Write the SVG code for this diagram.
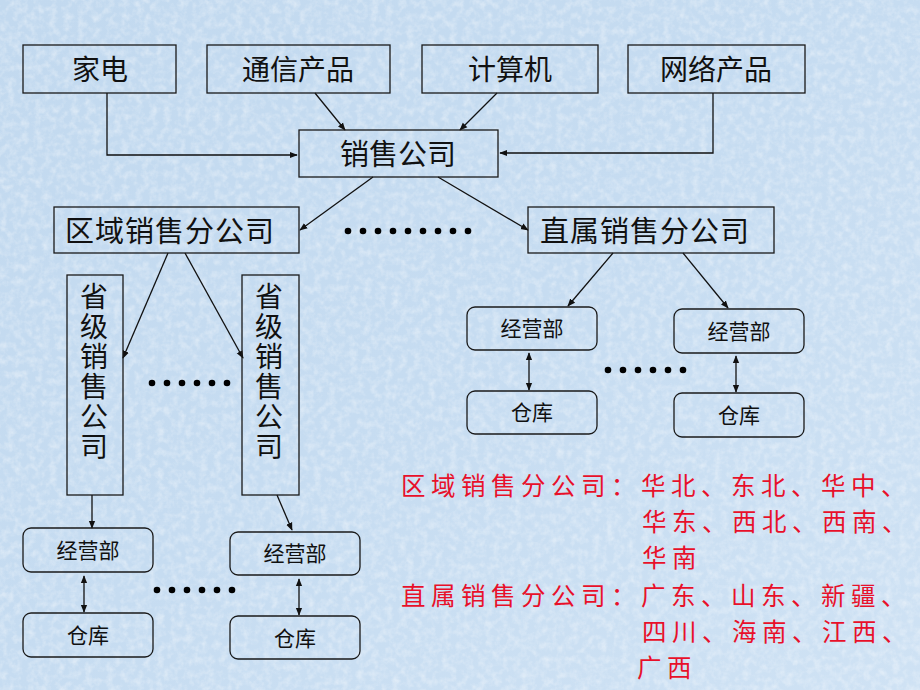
<svg xmlns="http://www.w3.org/2000/svg" width="920" height="690" viewBox="0 0 920 690">
<defs>
<style>
.box{fill:none;stroke:#1a1a1a;stroke-width:1.3}
.rbox{fill:none;stroke:#1a1a1a;stroke-width:1.3}
.ln{fill:none;stroke:#111;stroke-width:1.3}
.t{font-family:"Noto Sans CJK SC","Noto Sans CJK TC",sans-serif;fill:#111;text-anchor:middle}
.big{font-size:28px}
.mid{font-size:29px}
.sm{font-size:21px}
.red{font-family:"Noto Sans CJK SC",sans-serif;font-size:24.5px;fill:#e8102a;letter-spacing:5.5px}
.dot{fill:#000}
</style>
<marker id="ah" viewBox="0 0 10 10" refX="9" refY="5" markerWidth="8" markerHeight="8" markerUnits="userSpaceOnUse" orient="auto-start-reverse">
<path d="M0,1 L10,5 L0,9 z" fill="#111"/>
</marker>
<filter id="tex" x="0" y="0" width="100%" height="100%">
<feTurbulence type="fractalNoise" baseFrequency="0.14" numOctaves="3" seed="4" result="n"/>
<feColorMatrix in="n" type="matrix" values="0 0 0 0 1  0 0 0 0 1  0 0 0 0 1  0 0 0 1.4 -0.55" />
</filter>
<linearGradient id="bg" x1="0" y1="0" x2="1" y2="1">
<stop offset="0" stop-color="#c2d9ef"/>
<stop offset="0.5" stop-color="#c6dcf1"/>
<stop offset="1" stop-color="#cfe2f4"/>
</linearGradient>
</defs>
<rect width="920" height="690" fill="url(#bg)"/>
<rect width="920" height="690" filter="url(#tex)" opacity="0.55"/>

<g id="connectors">
<polyline class="ln" points="107,93 107,155 297,155" marker-end="url(#ah)"/>
<polyline class="ln" points="713,93 713,153 500,153" marker-end="url(#ah)"/>
<line class="ln" x1="315" y1="93" x2="345" y2="130" marker-end="url(#ah)"/>
<line class="ln" x1="497" y1="93" x2="460" y2="130" marker-end="url(#ah)"/>
<line class="ln" x1="373" y1="177" x2="300" y2="230" marker-end="url(#ah)"/>
<line class="ln" x1="438" y1="177" x2="528" y2="230" marker-end="url(#ah)"/>
<line class="ln" x1="168" y1="253" x2="123" y2="358" marker-end="url(#ah)"/>
<line class="ln" x1="185" y1="253" x2="243" y2="358" marker-end="url(#ah)"/>
<line class="ln" x1="92" y1="495" x2="92" y2="528" marker-end="url(#ah)"/>
<line class="ln" x1="277" y1="495" x2="292" y2="530" marker-end="url(#ah)"/>
<line class="ln" x1="84" y1="576" x2="84" y2="612" marker-start="url(#ah)" marker-end="url(#ah)"/>
<line class="ln" x1="299" y1="579" x2="299" y2="615" marker-start="url(#ah)" marker-end="url(#ah)"/>
<line class="ln" x1="613" y1="253" x2="568" y2="306" marker-end="url(#ah)"/>
<line class="ln" x1="683" y1="253" x2="728" y2="308" marker-end="url(#ah)"/>
<line class="ln" x1="529" y1="353" x2="529" y2="390" marker-start="url(#ah)" marker-end="url(#ah)"/>
<line class="ln" x1="736" y1="356" x2="736" y2="392" marker-start="url(#ah)" marker-end="url(#ah)"/>
</g>

<g id="dots">
<g class="dot">
<circle cx="348" cy="231" r="3.3"/><circle cx="363" cy="231" r="3.3"/><circle cx="378" cy="231" r="3.3"/><circle cx="393" cy="231" r="3.3"/><circle cx="408" cy="231" r="3.3"/><circle cx="423" cy="231" r="3.3"/><circle cx="438" cy="231" r="3.3"/><circle cx="453" cy="231" r="3.3"/><circle cx="468" cy="231" r="3.3"/>
<circle cx="152" cy="383" r="3.3"/><circle cx="167" cy="383" r="3.3"/><circle cx="182" cy="383" r="3.3"/><circle cx="197" cy="383" r="3.3"/><circle cx="212" cy="383" r="3.3"/><circle cx="227" cy="383" r="3.3"/>
<circle cx="157" cy="590" r="3.3"/><circle cx="172" cy="590" r="3.3"/><circle cx="187" cy="590" r="3.3"/><circle cx="202" cy="590" r="3.3"/><circle cx="217" cy="590" r="3.3"/><circle cx="232" cy="590" r="3.3"/>
<circle cx="608" cy="370" r="3.3"/><circle cx="623" cy="370" r="3.3"/><circle cx="638" cy="370" r="3.3"/><circle cx="653" cy="370" r="3.3"/><circle cx="668" cy="370" r="3.3"/><circle cx="683" cy="370" r="3.3"/>
</g>
</g>

<g id="n-jiadian"><rect class="box" x="23" y="45" width="153" height="48"/><text class="t big" x="100" y="80">家电</text></g>
<g id="n-tongxin"><rect class="box" x="207" y="45" width="183" height="48"/><text class="t big" x="298" y="80">通信产品</text></g>
<g id="n-jisuanji"><rect class="box" x="422" y="45" width="176" height="48"/><text class="t big" x="510" y="80">计算机</text></g>
<g id="n-wangluo"><rect class="box" x="628" y="45" width="177" height="48"/><text class="t big" x="716" y="80">网络产品</text></g>
<g id="n-xiaoshou"><rect class="box" x="299" y="130" width="199" height="47"/><text class="t mid" x="398" y="165">销售公司</text></g>
<g id="n-quyu"><rect class="box" x="54" y="207" width="245" height="46"/><text class="t mid" x="170" y="242" style="letter-spacing:1px">区域销售分公司</text></g>
<g id="n-zhishu"><rect class="box" x="528" y="207" width="246" height="46"/><text class="t mid" x="645" y="242" style="letter-spacing:1px">直属销售分公司</text></g>

<g id="n-shengji1"><rect class="box" x="67" y="275" width="56" height="220"/><text class="t big" x="94" y="282" style="writing-mode:vertical-rl;text-anchor:start;letter-spacing:2px">省级销售公司</text></g>
<g id="n-shengji2"><rect class="box" x="242" y="275" width="57" height="220"/><text class="t big" x="269" y="282" style="writing-mode:vertical-rl;text-anchor:start;letter-spacing:2px">省级销售公司</text></g>

<g id="n-jyb1"><rect class="rbox" x="23" y="528" width="130" height="44" rx="8"/><text class="t sm" x="88" y="558">经营部</text></g>
<g id="n-ck1"><rect class="rbox" x="23" y="613" width="130" height="44" rx="8"/><text class="t sm" x="88" y="643">仓库</text></g>
<g id="n-jyb2"><rect class="rbox" x="230" y="532" width="130" height="43" rx="8"/><text class="t sm" x="295" y="561">经营部</text></g>
<g id="n-ck2"><rect class="rbox" x="230" y="616" width="130" height="43" rx="8"/><text class="t sm" x="295" y="646">仓库</text></g>
<g id="n-jyb3"><rect class="rbox" x="467" y="307" width="130" height="43" rx="8"/><text class="t sm" x="532" y="336">经营部</text></g>
<g id="n-ck3"><rect class="rbox" x="467" y="391" width="130" height="43" rx="8"/><text class="t sm" x="532" y="420">仓库</text></g>
<g id="n-jyb4"><rect class="rbox" x="674" y="309" width="130" height="44" rx="8"/><text class="t sm" x="739" y="339">经营部</text></g>
<g id="n-ck4"><rect class="rbox" x="674" y="393" width="130" height="44" rx="8"/><text class="t sm" x="739" y="423">仓库</text></g>

<g id="notes">
<text class="red" x="401" y="495">区域销售分公司：华北、东北、华中、</text>
<text class="red" x="642" y="531">华东、西北、西南、</text>
<text class="red" x="642" y="567">华南</text>
<text class="red" x="401" y="605">直属销售分公司：广东、山东、新疆、</text>
<text class="red" x="642" y="641">四川、海南、江西、</text>
<text class="red" x="637" y="677">广西</text>
</g>
</svg>
